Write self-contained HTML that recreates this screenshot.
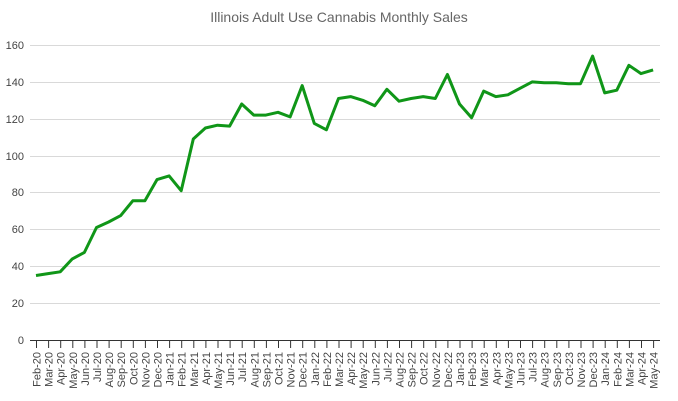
<!DOCTYPE html>
<html><head><meta charset="utf-8"><style>html,body{margin:0;padding:0;background:#fff}svg{display:block;font-family:"Liberation Sans",Arial,sans-serif}</style></head><body>
<svg width="678" height="401" viewBox="0 0 678 401" xmlns="http://www.w3.org/2000/svg">
<text x="339" y="22" text-anchor="middle" font-size="14" fill="#666">Illinois Adult Use Cannabis Monthly Sales</text>
<g stroke="#d9d9d9" stroke-width="1">
<line x1="30" x2="660" y1="45.5" y2="45.5"/><line x1="30" x2="660" y1="82.5" y2="82.5"/><line x1="30" x2="660" y1="119.5" y2="119.5"/><line x1="30" x2="660" y1="156.5" y2="156.5"/><line x1="30" x2="660" y1="192.5" y2="192.5"/><line x1="30" x2="660" y1="229.5" y2="229.5"/><line x1="30" x2="660" y1="266.5" y2="266.5"/><line x1="30" x2="660" y1="303.5" y2="303.5"/>
</g>
<line x1="30" x2="660" y1="340.5" y2="340.5" stroke="#333"/>
<g font-size="11" fill="#444" text-anchor="end">
<text x="24" y="49">160</text><text x="24" y="86">140</text><text x="24" y="123">120</text><text x="24" y="160">100</text><text x="24" y="196">80</text><text x="24" y="233">60</text><text x="24" y="270">40</text><text x="24" y="307">20</text><text x="24" y="344">0</text>
</g>
<path stroke="#333" stroke-width="1" d="M36.5 340v8M48.6 340v8M60.7 340v8M72.8 340v8M84.9 340v8M97 340v8M109.1 340v8M121.2 340v8M133.3 340v8M145.4 340v8M157.5 340v8M169.6 340v8M181.7 340v8M193.8 340v8M205.9 340v8M218 340v8M230.1 340v8M242.2 340v8M254.3 340v8M266.4 340v8M278.5 340v8M290.6 340v8M302.7 340v8M314.8 340v8M326.9 340v8M339 340v8M351.1 340v8M363.2 340v8M375.3 340v8M387.4 340v8M399.5 340v8M411.6 340v8M423.7 340v8M435.8 340v8M447.9 340v8M460 340v8M472.1 340v8M484.2 340v8M496.3 340v8M508.4 340v8M520.5 340v8M532.6 340v8M544.7 340v8M556.8 340v8M568.9 340v8M581 340v8M593.1 340v8M605.2 340v8M617.3 340v8M629.4 340v8M641.5 340v8M653.6 340v8"/>
<g font-size="11" fill="#444" text-anchor="end">
<text transform="translate(40.5,352) rotate(-90)">Feb-20</text><text transform="translate(52.6,352) rotate(-90)">Mar-20</text><text transform="translate(64.7,352) rotate(-90)">Apr-20</text><text transform="translate(76.8,352) rotate(-90)">May-20</text><text transform="translate(88.9,352) rotate(-90)">Jun-20</text><text transform="translate(101,352) rotate(-90)">Jul-20</text><text transform="translate(113.1,352) rotate(-90)">Aug-20</text><text transform="translate(125.2,352) rotate(-90)">Sep-20</text><text transform="translate(137.3,352) rotate(-90)">Oct-20</text><text transform="translate(149.4,352) rotate(-90)">Nov-20</text><text transform="translate(161.5,352) rotate(-90)">Dec-20</text><text transform="translate(173.6,352) rotate(-90)">Jan-21</text><text transform="translate(185.7,352) rotate(-90)">Feb-21</text><text transform="translate(197.8,352) rotate(-90)">Mar-21</text><text transform="translate(209.9,352) rotate(-90)">Apr-21</text><text transform="translate(222,352) rotate(-90)">May-21</text><text transform="translate(234.1,352) rotate(-90)">Jun-21</text><text transform="translate(246.2,352) rotate(-90)">Jul-21</text><text transform="translate(258.3,352) rotate(-90)">Aug-21</text><text transform="translate(270.4,352) rotate(-90)">Sep-21</text><text transform="translate(282.5,352) rotate(-90)">Oct-21</text><text transform="translate(294.6,352) rotate(-90)">Nov-21</text><text transform="translate(306.7,352) rotate(-90)">Dec-21</text><text transform="translate(318.8,352) rotate(-90)">Jan-22</text><text transform="translate(330.9,352) rotate(-90)">Feb-22</text><text transform="translate(343,352) rotate(-90)">Mar-22</text><text transform="translate(355.1,352) rotate(-90)">Apr-22</text><text transform="translate(367.2,352) rotate(-90)">May-22</text><text transform="translate(379.3,352) rotate(-90)">Jun-22</text><text transform="translate(391.4,352) rotate(-90)">Jul-22</text><text transform="translate(403.5,352) rotate(-90)">Aug-22</text><text transform="translate(415.6,352) rotate(-90)">Sep-22</text><text transform="translate(427.7,352) rotate(-90)">Oct-22</text><text transform="translate(439.8,352) rotate(-90)">Nov-22</text><text transform="translate(451.9,352) rotate(-90)">Dec-22</text><text transform="translate(464,352) rotate(-90)">Jan-23</text><text transform="translate(476.1,352) rotate(-90)">Feb-23</text><text transform="translate(488.2,352) rotate(-90)">Mar-23</text><text transform="translate(500.3,352) rotate(-90)">Apr-23</text><text transform="translate(512.4,352) rotate(-90)">May-23</text><text transform="translate(524.5,352) rotate(-90)">Jun-23</text><text transform="translate(536.6,352) rotate(-90)">Jul-23</text><text transform="translate(548.7,352) rotate(-90)">Aug-23</text><text transform="translate(560.8,352) rotate(-90)">Sep-23</text><text transform="translate(572.9,352) rotate(-90)">Oct-23</text><text transform="translate(585,352) rotate(-90)">Nov-23</text><text transform="translate(597.1,352) rotate(-90)">Dec-23</text><text transform="translate(609.2,352) rotate(-90)">Jan-24</text><text transform="translate(621.3,352) rotate(-90)">Feb-24</text><text transform="translate(633.4,352) rotate(-90)">Mar-24</text><text transform="translate(645.5,352) rotate(-90)">Apr-24</text><text transform="translate(657.6,352) rotate(-90)">May-24</text>
</g>
<polyline fill="none" stroke="#109618" stroke-width="3" stroke-linejoin="round" points="36,275.5 48.1,273.6 60.2,271.8 72.3,258.9 84.4,252.4 96.5,227.5 108.6,222 120.7,215.6 132.8,200.8 144.9,200.8 157,179.6 169.1,175.9 181.2,190.7 193.3,139 205.4,128 217.5,125.2 229.6,126.1 241.7,104 253.8,115.1 265.9,115.1 278,112.3 290.1,116.9 302.2,85.6 314.3,123.4 326.4,129.8 338.5,98.5 350.6,96.6 362.7,100.3 374.8,105.8 386.9,89.3 399,101.2 411.1,98.5 423.2,96.6 435.3,98.5 447.4,74.5 459.5,104 471.6,117.8 483.7,91.1 495.8,96.6 507.9,94.8 520,88.3 532.1,81.9 544.2,82.8 556.3,82.8 568.4,83.7 580.5,83.7 592.6,56.1 604.7,92.9 616.8,90.2 628.9,65.3 641,73.6 653.1,69.9"/>
</svg>
</body></html>
